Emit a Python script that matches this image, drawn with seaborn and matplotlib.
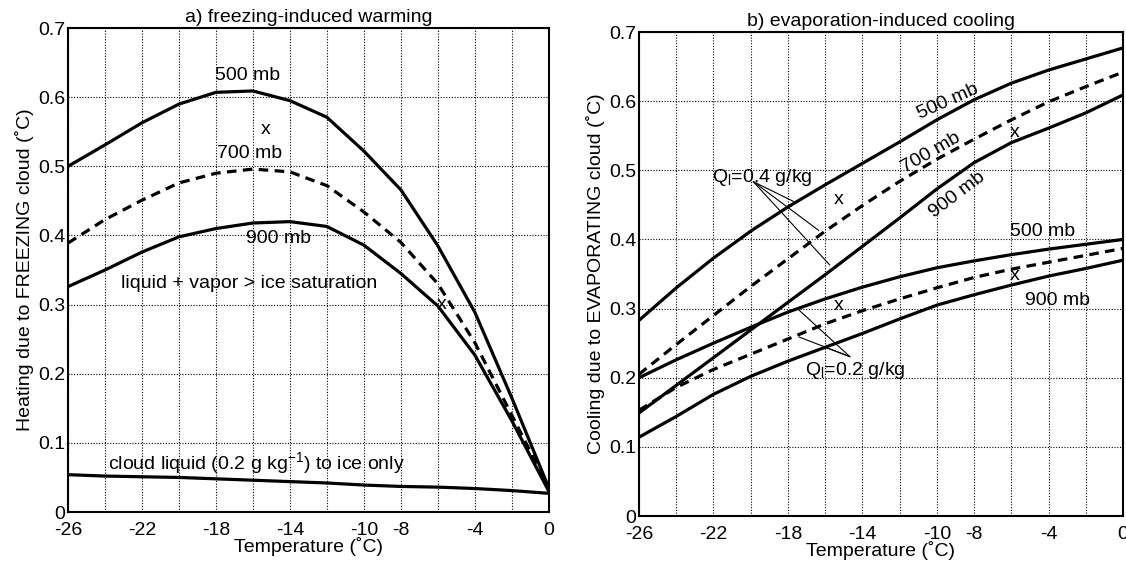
import matplotlib
matplotlib.use("Agg")
import matplotlib.pyplot as plt
import seaborn as sns

# ── Data ──────────────────────────────────────────────────────────────────────
TEMP = [-26, -24, -22, -20, -18, -16, -14, -12, -10, -8, -6, -4, -2, 0]

# a) freezing-induced warming
FRZ_500 = [0.500, 0.531, 0.563, 0.590, 0.607, 0.609, 0.595, 0.571, 0.522, 0.466, 0.385, 0.289, 0.165, 0.035]
FRZ_700 = [0.389, 0.423, 0.451, 0.476, 0.490, 0.496, 0.492, 0.472, 0.434, 0.390, 0.330, 0.245, 0.140, 0.035]
FRZ_900 = [0.326, 0.350, 0.376, 0.398, 0.410, 0.418, 0.420, 0.413, 0.386, 0.345, 0.298, 0.227, 0.132, 0.030]
FRZ_LIQ = [0.054, 0.052, 0.051, 0.050, 0.048, 0.046, 0.044, 0.042, 0.039, 0.037, 0.036, 0.034, 0.031, 0.027]

# b) evaporation-induced cooling, Ql = 0.4 g/kg
EVP4_500 = [0.283, 0.330, 0.373, 0.412, 0.447, 0.479, 0.510, 0.541, 0.573, 0.602, 0.626, 0.645, 0.661, 0.677]
EVP4_700 = [0.205, 0.248, 0.290, 0.332, 0.372, 0.412, 0.449, 0.484, 0.516, 0.545, 0.573, 0.599, 0.621, 0.642]
EVP4_900 = [0.149, 0.189, 0.229, 0.269, 0.309, 0.349, 0.390, 0.431, 0.473, 0.511, 0.540, 0.561, 0.583, 0.609]
# Ql = 0.2 g/kg
EVP2_500 = [0.200, 0.226, 0.250, 0.273, 0.295, 0.314, 0.331, 0.346, 0.359, 0.369, 0.378, 0.386, 0.393, 0.400]
EVP2_700 = [0.153, 0.186, 0.212, 0.234, 0.256, 0.278, 0.297, 0.314, 0.330, 0.345, 0.357, 0.367, 0.377, 0.387]
EVP2_900 = [0.114, 0.144, 0.176, 0.202, 0.224, 0.244, 0.264, 0.285, 0.305, 0.320, 0.334, 0.347, 0.358, 0.370]

XTICK_SHOWN = [-26, -22, -18, -14, -10, -8, -4, 0]
YTICKS = [0, 0.1, 0.2, 0.3, 0.4, 0.5, 0.6, 0.7]

# ── Style ─────────────────────────────────────────────────────────────────────
sns.set_theme(style="white")
plt.rcParams.update({
    "font.family": ["Liberation Sans", "DejaVu Sans"],
    "font.size": 14,
    "mathtext.fontset": "custom",
    "mathtext.rm": "Liberation Sans",
    "mathtext.it": "Liberation Sans:italic",
    "axes.edgecolor": "black",
    "axes.linewidth": 1.5,
    "text.color": "black",
    "axes.labelcolor": "black",
    "xtick.color": "black",
    "ytick.color": "black",
})

FS = 14
LW = 2.3
DASH = (0, (3, 2))

fig = plt.figure(figsize=(11.26, 5.71), dpi=100, facecolor="white")
ax1 = fig.add_axes([0.0604, 0.1033, 0.427, 0.8476])
ax2 = fig.add_axes([0.5675, 0.0963, 0.4298, 0.8476])


def style_axes(ax, ylabel, title):
    ax.set_xlim(-26, 0)
    ax.set_ylim(0, 0.7)
    ax.set_xticks(TEMP)
    ax.set_xticklabels([str(t) if t in XTICK_SHOWN else "" for t in TEMP])
    ax.set_yticks(YTICKS)
    ax.set_yticklabels(["0" if v == 0 else f"{v:.1f}" for v in YTICKS])
    ax.tick_params(axis="both", length=0, labelsize=FS)
    ax.tick_params(axis="x", pad=7)
    ax.tick_params(axis="y", pad=2)
    ax.grid(True, color="black", linestyle=(0, (1, 1.5)), linewidth=0.8)
    ax.set_axisbelow(True)
    for s in ax.spines.values():
        s.set_visible(True)
        s.set_color("black")
        s.set_linewidth(1.5)
    ax.set_xlabel("Temperature (˚C)", fontsize=FS, labelpad=-1)
    ax.set_ylabel(ylabel, fontsize=FS, labelpad=3)
    ax.set_title(title, fontsize=FS, pad=4)


def draw(ax, y, dashed=False):
    kw = dict(linestyle=DASH) if dashed else {}
    sns.lineplot(x=TEMP, y=y, ax=ax, color="black", linewidth=LW, **kw)


# ── a) freezing-induced warming ───────────────────────────────────────────────
draw(ax1, FRZ_500)
draw(ax1, FRZ_700, dashed=True)
draw(ax1, FRZ_900)
draw(ax1, FRZ_LIQ)
style_axes(ax1, "Heating due to FREEZING cloud (˚C)", "a) freezing-induced warming")

ax1.text(-16.3, 0.631, "500 mb", ha="center", va="center", fontsize=FS)
ax1.text(-16.2, 0.518, "700 mb", ha="center", va="center", fontsize=FS)
ax1.text(-14.6, 0.395, "900 mb", ha="center", va="center", fontsize=FS)
ax1.text(-15.3, 0.553, "x", ha="center", va="center", fontsize=FS)
ax1.text(-5.8, 0.300, "x", ha="center", va="center", fontsize=FS)
ax1.text(-16.2, 0.331, "liquid + vapor > ice saturation", ha="center", va="center", fontsize=FS)
ax1.text(-15.8, 0.071, r"cloud liquid (0.2 g kg$^{\mathrm{-1}}$) to ice only",
         ha="center", va="center", fontsize=FS)

# ── b) evaporation-induced cooling ────────────────────────────────────────────
draw(ax2, EVP4_500)
draw(ax2, EVP4_700, dashed=True)
draw(ax2, EVP4_900)
draw(ax2, EVP2_500)
draw(ax2, EVP2_700, dashed=True)
draw(ax2, EVP2_900)
style_axes(ax2, "Cooling due to EVAPORATING cloud (˚C)", "b) evaporation-induced cooling")

ax2.text(-9.4, 0.599, "500 mb", ha="center", va="center", rotation=24, fontsize=FS)
ax2.text(-10.3, 0.526, "700 mb", ha="center", va="center", rotation=30, fontsize=FS)
ax2.text(-8.9, 0.464, "900 mb", ha="center", va="center", rotation=37, fontsize=FS)
ax2.text(-4.3, 0.411, "500 mb", ha="center", va="center", fontsize=FS)
ax2.text(-3.5, 0.312, "900 mb", ha="center", va="center", fontsize=FS)
for xm, ym in [(-5.8, 0.554), (-15.3, 0.458), (-5.8, 0.348), (-15.3, 0.304)]:
    ax2.text(xm, ym, "x", ha="center", va="center", fontsize=FS)

ax2.text(-22.1, 0.489, r"Q$_{\mathrm{l}}$=0.4 g/kg", ha="left", va="center", fontsize=FS)
ax2.text(-17.1, 0.211, r"Q$_{\mathrm{l}}$=0.2 g/kg", ha="left", va="center", fontsize=FS)

for (x0, y0), (x1, y1) in [((-19.86, 0.4836), (-17.7, 0.455)),
                           ((-19.86, 0.4836), (-16.34, 0.413)),
                           ((-19.86, 0.4836), (-15.75, 0.363)),
                           ((-14.67, 0.2305), (-17.41, 0.298)),
                           ((-14.67, 0.2305), (-17.41, 0.259)),
                           ((-14.67, 0.2305), (-15.9, 0.243))]:
    ax2.plot([x0, x1], [y0, y1], color="black", linewidth=0.8)

fig.savefig("out.png", dpi=100, facecolor="white")
